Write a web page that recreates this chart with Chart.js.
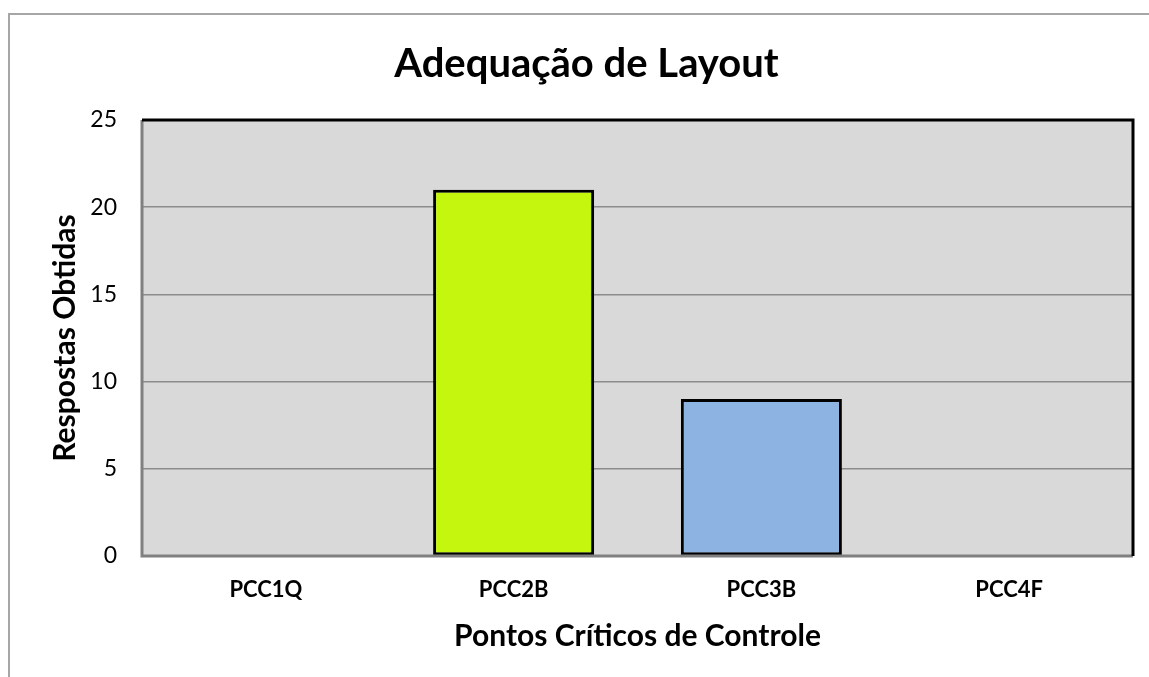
<!DOCTYPE html>
<html>
<head>
<meta charset="utf-8">
<script src="https://cdn.jsdelivr.net/npm/chart.js@4.4.1/dist/chart.umd.min.js"></script>
<style>
  html, body { margin: 0; padding: 0; background: #ffffff; }
  #wrap { width: 1149px; height: 677px; position: relative; }
</style>
</head>
<body>
<div id="wrap"><canvas id="myChart" width="1149" height="677"></canvas></div>
<script>
// data
const categories = ["PCC1Q", "PCC2B", "PCC3B", "PCC4F"];
const respostas = [0, 21, 9, 0];
const barColors = ["#C5F70E", "#C5F70E", "#8DB3E2", "#C5F70E"];
const yTicks = [0, 5, 10, 15, 20, 25];

const FONT = "Lato, 'Open Sans', sans-serif";

// outer frame, plot background and plot border (Excel look)
const frame = {
  id: "frame",
  beforeDraw(chart) {
    const ctx = chart.ctx;
    const a = chart.chartArea;
    ctx.save();
    ctx.fillStyle = "#ffffff";
    ctx.fillRect(0, 0, chart.width, chart.height);
    // light gray outer border, only top and left visible
    ctx.strokeStyle = "#a6a6a6";
    ctx.lineWidth = 2;
    ctx.beginPath();
    ctx.moveTo(9, chart.height);
    ctx.lineTo(9, 14);
    ctx.lineTo(chart.width, 14);
    ctx.stroke();
    // plot area background
    ctx.fillStyle = "#D9D9D9";
    ctx.fillRect(a.left, a.top, a.right - a.left, a.bottom - a.top);
    ctx.restore();
  },
  afterDatasetsDraw(chart) {
    const ctx = chart.ctx;
    const a = chart.chartArea;
    ctx.save();
    ctx.lineWidth = 3;
    ctx.strokeStyle = "#808080";
    ctx.beginPath();
    ctx.moveTo(a.left, a.top);
    ctx.lineTo(a.left, a.bottom);
    ctx.lineTo(a.right, a.bottom);
    ctx.stroke();
    ctx.strokeStyle = "#000000";
    ctx.beginPath();
    ctx.moveTo(a.left, a.top);
    ctx.lineTo(a.right, a.top);
    ctx.lineTo(a.right, a.bottom);
    ctx.stroke();
    ctx.restore();
  }
};

const ctx = document.getElementById("myChart");
const myChart = new Chart(ctx, {
  type: "bar",
  data: {
    labels: categories,
    datasets: [{
      label: "Respostas Obtidas",
      data: respostas,
      backgroundColor: barColors,
      borderColor: "#000000",
      borderWidth: 3,
      borderSkipped: false,
      barPercentage: 0.65,
      categoryPercentage: 1.0
    }]
  },
  options: {
    responsive: false,
    animation: false,
    events: [],
    layout: { padding: { left: 40, right: 16, top: 40, bottom: 20 } },
    plugins: {
      legend: { display: false },
      tooltip: { enabled: false },
      title: {
        display: true,
        text: "Adequação de Layout",
        color: "#000000",
        font: { family: FONT, size: 40, weight: "bold" },
        padding: { top: 0, bottom: 32 }
      }
    },
    scales: {
      x: {
        afterFit(scale) { scale.height = 101; },
        grid: { display: false, drawTicks: false },
        border: { display: false },
        ticks: {
          color: "#000000",
          padding: 21,
          font: { family: FONT, size: 22, weight: "bold" }
        },
        title: {
          display: true,
          text: "Pontos Críticos de Controle",
          color: "#000000",
          font: { family: FONT, size: 30, weight: "bold" },
          padding: { top: 0, bottom: 3 }
        }
      },
      y: {
        min: 0,
        max: 25,
        afterFit(scale) { scale.width = 102; },
        afterBuildTicks(scale) {
          scale.ticks = yTicks.map(v => ({ value: v }));
        },
        grid: {
          color: (c) => (c.tick.value === 0 || c.tick.value === 25) ? "rgba(0,0,0,0)" : "#8c8c8c",
          lineWidth: 1.5,
          drawTicks: false
        },
        border: { display: false },
        ticks: {
          color: "#000000",
          padding: 25,
          font: { family: FONT, size: 23 }
        },
        title: {
          display: true,
          text: "Respostas Obtidas",
          color: "#000000",
          font: { family: FONT, size: 30, weight: "bold" },
          padding: { top: 7, bottom: 0 }
        }
      }
    }
  },
  plugins: [frame]
});
</script>
</body>
</html>
